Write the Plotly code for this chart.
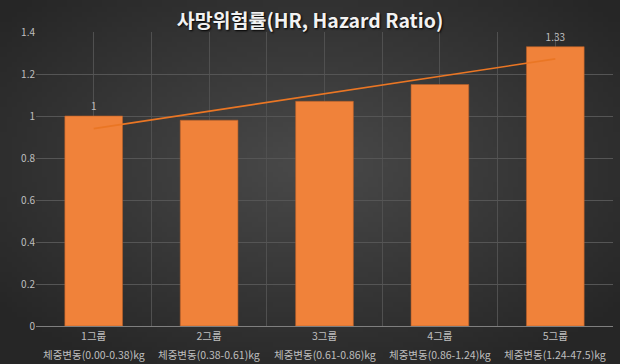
import base64
import struct
import zlib

import numpy as np
import plotly.graph_objects as go

groups = ["1그룹", "2그룹", "3그룹", "4그룹", "5그룹"]
ranges = ["체중변동(0.00-0.38)kg", "체중변동(0.38-0.61)kg", "체중변동(0.61-0.86)kg",
          "체중변동(0.86-1.24)kg", "체중변동(1.24-47.5)kg"]
hr = [1.00, 0.98, 1.07, 1.15, 1.33]
labels = ["1", "", "", "", "1.33"]
yticks = [0, 0.2, 0.4, 0.6, 0.8, 1.0, 1.2, 1.4]

W, H = 620, 364
ML, MR, MT, MB = 36, 7, 32, 38
PW, PH = W - ML - MR, H - MT - MB


def radial_png(w, h, inner, outer):
    yy, xx = np.mgrid[0:h, 0:w]
    cx, cy = (w - 1) / 2, (h - 1) * 0.45
    d = np.sqrt(((xx - cx) / (w / 2)) ** 2 + ((yy - cy) / (h / 2)) ** 2) / 1.3
    d = np.clip(d, 0, 1)
    img = (np.array(inner)[None, None, :] * (1 - d[..., None]) +
           np.array(outer)[None, None, :] * d[..., None]).astype(np.uint8)
    raw = b"".join(b"\x00" + img[r].tobytes() for r in range(h))

    def chunk(t, data):
        c = struct.pack(">I", len(data)) + t + data
        return c + struct.pack(">I", zlib.crc32(t + data) & 0xffffffff)

    png = (b"\x89PNG\r\n\x1a\n" +
           chunk(b"IHDR", struct.pack(">IIBBBBB", w, h, 8, 2, 0, 0, 0)) +
           chunk(b"IDAT", zlib.compress(raw, 9)) + chunk(b"IEND", b""))
    return "data:image/png;base64," + base64.b64encode(png).decode()


bg = radial_png(124, 73, (74, 74, 74), (38, 38, 38))

xpos = list(range(1, len(hr) + 1))
coef = np.polyfit(xpos, hr, 1)
trend = [coef[0] * x + coef[1] for x in xpos]

font = "Noto Sans CJK KR"
fig = go.Figure()
fig.add_trace(go.Bar(
    x=xpos, y=hr, width=0.5,
    marker=dict(color="#f0823a", line=dict(color="#b95f28", width=0.6)),
    text=labels, textposition="outside",
    textfont=dict(color="#bfbfbf", size=10, family=font),
    cliponaxis=False, showlegend=False,
))
fig.add_trace(go.Scatter(
    x=xpos, y=trend, mode="lines",
    line=dict(color="#ea7624", width=1.6), showlegend=False,
))

for x, r in zip(xpos, ranges):
    fig.add_annotation(x=x, xref="x", y=-(354 - (H - MB)) / PH, yref="paper",
                       text=r, showarrow=False, yanchor="middle",
                       font=dict(size=10.5, color="#bfbfbf", family=font))

fig.update_layout(
    width=W, height=H,
    margin=dict(l=ML, r=MR, t=MT, b=MB, autoexpand=False),
    paper_bgcolor="#333333", plot_bgcolor="rgba(0,0,0,0)",
    font=dict(family=font, color="#bfbfbf", size=10),
    images=[dict(source=bg, xref="paper", yref="paper", x=-ML / PW, y=1 + MT / PH,
                 sizex=W / PW, sizey=H / PH, sizing="stretch", layer="below",
                 xanchor="left", yanchor="top")],
    title=dict(text="<b>사망위험률(HR, Hazard Ratio)</b>", x=0.5, xanchor="center",
               y=1 - 21 / H, yref="container", yanchor="middle",
               font=dict(size=19.5, color="#f2f2f2", family=font,
                         shadow="1px 1px 2px #000000")),
    xaxis=dict(range=[0.5, 5.5], tickvals=xpos, ticktext=groups,
               showgrid=True, gridcolor="#505050", gridwidth=1,
               minor=dict(tickvals=[0.5, 1.5, 2.5, 3.5, 4.5, 5.5], showgrid=True,
                          gridcolor="#505050", gridwidth=1),
               ticks="", zeroline=False, showline=True, linecolor="#7f7f7f", linewidth=1,
               tickfont=dict(size=10.5, color="#bfbfbf"), automargin=False),
    yaxis=dict(range=[0, 1.4], tickvals=yticks, showgrid=True, gridcolor="#555555",
               zeroline=False, showline=False, ticks="", automargin=False,
               tickfont=dict(size=10, color="#bfbfbf")),
)
fig.write_html("out.html", config={"displayModeBar": False},
               post_script="document.body.style.margin='0';document.body.style.overflow='hidden';")
